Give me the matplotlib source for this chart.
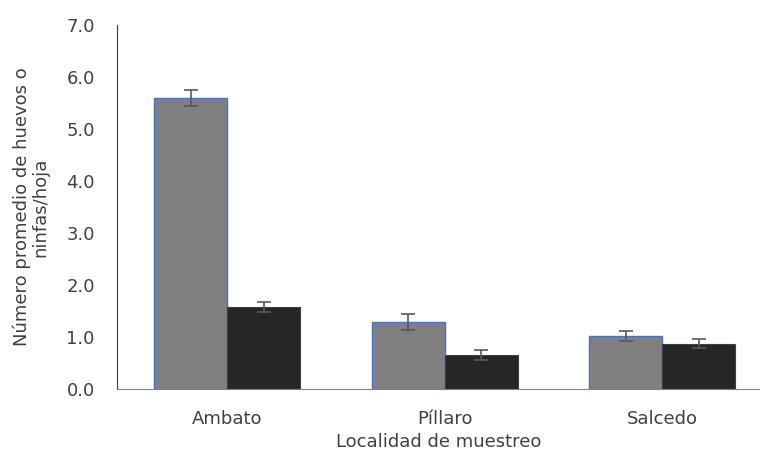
import numpy as np
import matplotlib.pyplot as plt

localidades = ["Ambato", "Píllaro", "Salcedo"]
serie_a = [5.6, 1.29, 1.02]
err_a = [0.15, 0.15, 0.1]
serie_b = [1.58, 0.65, 0.87]
err_b = [0.1, 0.1, 0.08]

fig = plt.figure(figsize=(7.6, 4.58), dpi=100)
ax = fig.add_axes([0.154, 0.151, 0.846, 0.794])

x = np.arange(len(localidades))
w = 0.336
ekw = dict(ecolor="#595959", elinewidth=1.2, capsize=5, capthick=1.2)
ax.bar(x - w / 2, serie_a, w, yerr=err_a, color="#808080",
       edgecolor="#4472C4", linewidth=1, error_kw=ekw)
ax.bar(x + w / 2, serie_b, w, yerr=err_b, color="#262626",
       edgecolor="#404040", linewidth=0.8, error_kw=ekw)

ax.set_ylim(0, 7)
ax.set_xlim(-0.506, 2.45)
ax.set_yticks(np.arange(0, 7.1, 1.0))
ax.set_yticklabels([f"{v:.1f}" for v in np.arange(0, 7.1, 1.0)])
ax.set_xticks(x)
ax.set_xticklabels(localidades)
ax.tick_params(axis="both", length=0, labelsize=13, colors="#404040")
ax.tick_params(axis="x", pad=15)
ax.tick_params(axis="y", pad=16)
ax.spines["top"].set_visible(False)
ax.spines["right"].set_visible(False)
ax.spines["left"].set_color("#404040")
ax.spines["bottom"].set_color("#808080")

ax.set_xlabel("Localidad de muestreo", fontsize=13, color="#404040", labelpad=4)
ax.set_ylabel("Número promedio de huevos o\nninfas/hoja", fontsize=13,
              color="#404040", labelpad=12, linespacing=1.05)

fig.savefig("out.png", dpi=100)
